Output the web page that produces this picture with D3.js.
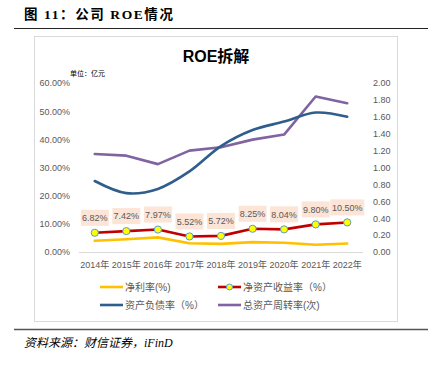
<!DOCTYPE html>
<html>
<head>
<meta charset="utf-8">
<script src="https://cdn.jsdelivr.net/npm/d3@7"></script>
<style>
  body { margin: 0; background: #fff; }
  svg text { font-family: "Liberation Sans", "Noto Sans CJK SC", sans-serif; }
</style>
</head>
<body>
<svg id="chart" width="428" height="365"></svg>
<script>
// data
var years = ["2014年", "2015年", "2016年", "2017年", "2018年", "2019年", "2020年", "2021年", "2022年"];
var netMargin = [4.0, 4.5, 5.2, 3.1, 2.9, 3.5, 3.3, 2.6, 3.0];
var roe = [6.82, 7.42, 7.97, 5.52, 5.72, 8.25, 8.04, 9.80, 10.50];
var debtRatio = [25.2, 20.9, 22.4, 28.6, 37.6, 43.3, 46.3, 49.5, 48.0];
var turnover = [1.16, 1.14, 1.04, 1.20, 1.24, 1.33, 1.39, 1.84, 1.76];
var leftTicks = [0, 10, 20, 30, 40, 50, 60];
var rightTicks = [0, 0.2, 0.4, 0.6, 0.8, 1.0, 1.2, 1.4, 1.6, 1.8, 2.0];

var svg = d3.select("#chart");
var grey = "#595959";

// page header
svg.append("text").attr("x", 24).attr("y", 19)
    .attr("font-size", 13.5).attr("font-weight", "bold").attr("fill", "#000")
    .attr("letter-spacing", 1.6)
    .style("font-family", "'Liberation Serif', 'Noto Sans CJK SC', serif")
    .text("图 11：公司 ROE情况");
svg.append("line").attr("x1", 14).attr("x2", 428).attr("y1", 28.5).attr("y2", 28.5)
    .attr("stroke", "#222").attr("stroke-width", 1.2);

// chart box
svg.append("rect").attr("x", 34.5).attr("y", 36.5).attr("width", 363).attr("height", 285)
    .attr("fill", "#fff").attr("stroke", "#d9d9d9");

// title
svg.append("text").attr("x", 216).attr("y", 62).attr("text-anchor", "middle")
    .attr("font-size", 16).attr("font-weight", "bold").attr("fill", "#000")
    .text("ROE拆解");
svg.append("text").attr("x", 70).attr("y", 76)
    .attr("font-size", 7).attr("fill", "#000").text("单位：亿元");

// scales
var x = d3.scaleBand().domain(years).range([79, 363]);
var yL = d3.scaleLinear().domain([0, 60]).range([252, 83]);
var yR = d3.scaleLinear().domain([0, 2]).range([252, 83]);
var cx = function (d, i) { return x(years[i]) + x.bandwidth() / 2; };

// axes
var axL = svg.append("g").attr("transform", "translate(79,0)")
    .call(d3.axisLeft(yL).tickValues(leftTicks).tickSize(0).tickPadding(9)
        .tickFormat(function (d) { return d.toFixed(2) + "%"; }));
var axR = svg.append("g").attr("transform", "translate(363,0)")
    .call(d3.axisRight(yR).tickValues(rightTicks).tickSize(0).tickPadding(10)
        .tickFormat(d3.format(".2f")));
var axB = svg.append("g").attr("transform", "translate(0,252)")
    .call(d3.axisBottom(x).tickSize(0).tickPadding(10));
[axL, axR, axB].forEach(function (g) {
    g.select(".domain").remove();
    g.selectAll("text").attr("fill", grey).attr("font-size", 9)
        .style("font-family", "'Liberation Sans', 'Noto Sans CJK SC', sans-serif");
});
svg.append("line").attr("x1", 79).attr("x2", 363).attr("y1", 252.5).attr("y2", 252.5)
    .attr("stroke", "#d9d9d9");

// lines
function drawLine(data, scale, color, curve) {
    var line = d3.line().x(cx).y(function (d) { return scale(d); }).curve(curve || d3.curveLinear);
    svg.append("path").datum(data)
        .attr("fill", "none").attr("stroke", color).attr("stroke-width", 2.6)
        .attr("stroke-linejoin", "round").attr("stroke-linecap", "round")
        .attr("d", line);
}
drawLine(turnover, yR, "#8064a2");
drawLine(debtRatio, yL, "#2f5d8c", d3.curveCatmullRom.alpha(0.5));
drawLine(netMargin, yL, "#ffc000");
drawLine(roe, yL, "#c00000");

svg.append("g").selectAll("circle").data(roe).enter().append("circle")
    .attr("cx", cx).attr("cy", function (d) { return yL(d); }).attr("r", 3.6)
    .attr("fill", "#ffff00").attr("stroke", "#5b9bd5").attr("stroke-width", 1);

// data labels
var lab = svg.append("g").selectAll("g").data(roe).enter().append("g")
    .attr("transform", function (d, i) { return "translate(" + cx(d, i) + "," + (yL(d) - 15) + ")"; });
lab.append("rect").attr("x", function (d) { return d >= 10 ? -17 : -14; }).attr("y", -8)
    .attr("width", function (d) { return d >= 10 ? 34 : 28; }).attr("height", 16)
    .attr("fill", "#fce4d6");
lab.append("text").attr("text-anchor", "middle").attr("dy", "0.35em")
    .attr("font-size", 9).attr("fill", grey)
    .text(function (d) { return d.toFixed(2) + "%"; });

// legend
var legend = [
    { name: "净利率(%)", color: "#ffc000", x: 100, y: 287 },
    { name: "净资产收益率（%）", color: "#c00000", x: 218, y: 287, marker: true },
    { name: "资产负债率（%）", color: "#2f5d8c", x: 100, y: 305 },
    { name: "总资产周转率(次)", color: "#8064a2", x: 218, y: 305 }
];
var lg = svg.append("g").selectAll("g").data(legend).enter().append("g")
    .attr("transform", function (d) { return "translate(" + d.x + "," + d.y + ")"; });
lg.append("line").attr("x1", 0).attr("x2", 23).attr("stroke", function (d) { return d.color; })
    .attr("stroke-width", 2.6);
lg.filter(function (d) { return d.marker; }).append("circle").attr("cx", 11.5).attr("r", 3)
    .attr("fill", "#ffff00").attr("stroke", "#5b9bd5").attr("stroke-width", 1);
lg.append("text").attr("x", 25).attr("dy", "0.35em").attr("font-size", 10).attr("fill", grey)
    .text(function (d) { return d.name; });

// footer
svg.append("line").attr("x1", 14).attr("x2", 428).attr("y1", 329.5).attr("y2", 329.5)
    .attr("stroke", "#555").attr("stroke-width", 1.5);
svg.append("text").attr("x", 24).attr("y", 347).attr("font-size", 12).attr("font-style", "italic")
    .attr("fill", "#000").style("font-family", "'Liberation Serif', 'Noto Sans CJK SC', serif")
    .text("资料来源：财信证券，iFinD");
</script>
</body>
</html>
